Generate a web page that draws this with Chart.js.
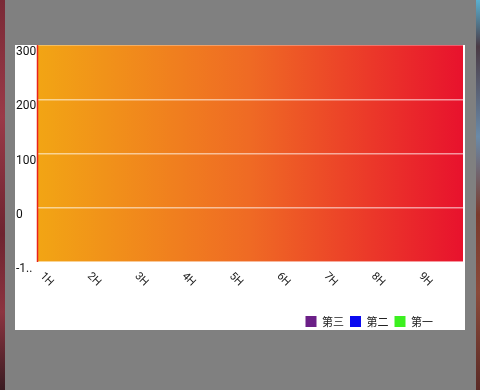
<!DOCTYPE html>
<html>
<head>
<meta charset="utf-8">
<script src="https://cdn.jsdelivr.net/npm/chart.js@4"></script>
<style>
  html, body { margin: 0; padding: 0; }
  body { width: 480px; height: 390px; background: #808080; position: relative; overflow: hidden; }
  #leftStrip { position: absolute; left: 0; top: 0; width: 5px; height: 390px;
    background: linear-gradient(180deg, #7a2a36 0%, #9a3a48 30%, #6e2430 60%, #8c3440 80%, #3a1c22 100%); }
  #rightStrip { position: absolute; left: 476px; top: 0; width: 4px; height: 390px;
    background: linear-gradient(180deg, #5ab0d0 0%, #4a3a44 12%, #6a8aa8 35%, #7a3a2c 55%, #8a4a3a 75%, #5a2a26 100%); }
  #card { position: absolute; left: 15px; top: 45px; width: 450px; height: 285px; background: #fff; }
  #chart { position: absolute; left: 15px; top: 45px; }
</style>
</head>
<body>
<div id="leftStrip"></div>
<div id="rightStrip"></div>
<div id="card"></div>
<canvas id="chart" width="450" height="292"></canvas>
<script>
document.addEventListener('DOMContentLoaded', function() {
    const hours = ['1H', '2H', '3H', '4H', '5H', '6H', '7H', '8H', '9H'];
    const third = [0, 0, 0, 0, 0, 0, 0, 0, 0];
    const second = [0, 0, 0, 0, 0, 0, 0, 0, 0];
    const first = [0, 0, 0, 0, 0, 0, 0, 0, 0];
    const yTicks = [-100, 0, 100, 200, 300];

    // orange -> red fill behind the plot
    const areaGradient = {
        id: 'areaGradient',
        beforeDraw(chart) {
            const { ctx, chartArea: a } = chart;
            const g = ctx.createLinearGradient(a.left, 0, a.right, 0);
            g.addColorStop(0, '#f2a514');
            g.addColorStop(0.5, '#ef6a24');
            g.addColorStop(1, '#e8122d');
            ctx.save();
            ctx.fillStyle = g;
            ctx.fillRect(a.left, a.top, a.right - a.left, a.bottom - a.top);
            ctx.restore();
        }
    };

    // x labels are turned clockwise, which Chart.js does not do itself
    const slantLabels = {
        id: 'slantLabels',
        afterLayout(chart) {
            chart.legend.right -= 24;
        },
        afterDraw(chart) {
            const { ctx, chartArea: a } = chart;
            const xScale = chart.scales.x;
            ctx.save();
            // red left axis line
            ctx.strokeStyle = '#e8231a';
            ctx.lineWidth = 1.5;
            ctx.beginPath();
            ctx.moveTo(a.left + 0.5, a.top);
            ctx.lineTo(a.left + 0.5, a.bottom);
            ctx.stroke();

            ctx.font = '11px Roboto';
            ctx.fillStyle = '#222';
            ctx.textAlign = 'left';
            ctx.textBaseline = 'middle';
            hours.forEach((label, i) => {
                const x = xScale.getPixelForValue(i) - 19;
                ctx.save();
                ctx.translate(x, a.bottom + 12.5);
                ctx.rotate(Math.PI / 4);
                ctx.fillText(label, 0, 0);
                ctx.restore();
            });
            ctx.restore();
        }
    };

    new Chart(document.getElementById('chart'), {
        type: 'bar',
        data: {
            labels: hours,
            datasets: [
                { label: '第三', data: third, backgroundColor: '#6b1f87', borderWidth: 0 },
                { label: '第二', data: second, backgroundColor: '#0a0af0', borderWidth: 0 },
                { label: '第一', data: first, backgroundColor: '#3cf020', borderWidth: 0 }
            ]
        },
        options: {
            responsive: false,
            animation: false,
            layout: { padding: { left: 1, right: 2, top: 0, bottom: 0 } },
            plugins: {
                tooltip: { enabled: false },
                legend: {
                    position: 'bottom',
                    align: 'end',
                    labels: {
                        boxWidth: 11,
                        boxHeight: 11,
                        padding: 6,
                        color: '#222',
                        font: { family: '"Noto Sans CJK SC", Roboto', size: 11 }
                    }
                }
            },
            scales: {
                x: {
                    grid: { display: false },
                    border: { display: false },
                    ticks: { display: false },
                    afterFit: scale => { scale.height = 48; }
                },
                y: {
                    min: yTicks[0],
                    max: yTicks[yTicks.length - 1],
                    afterBuildTicks: scale => { scale.ticks = yTicks.map(v => ({ value: v })); },
                    grid: { color: 'rgba(255,255,255,0.55)', lineWidth: 1.5, drawTicks: false },
                    border: { display: false },
                    ticks: {
                        padding: 0,
                        crossAlign: 'far',
                        labelOffset: 7,
                        color: '#111',
                        font: { family: 'Roboto', size: 12, lineHeight: 0.01 },
                        callback: v => {
                            const s = String(v);
                            return s.length > 3 ? s.slice(0, 2) + '..' : s;
                        }
                    },
                    afterFit: scale => { scale.width = 21; }
                }
            }
        },
        plugins: [areaGradient, slantLabels]
    });
});
</script>
</body>
</html>
